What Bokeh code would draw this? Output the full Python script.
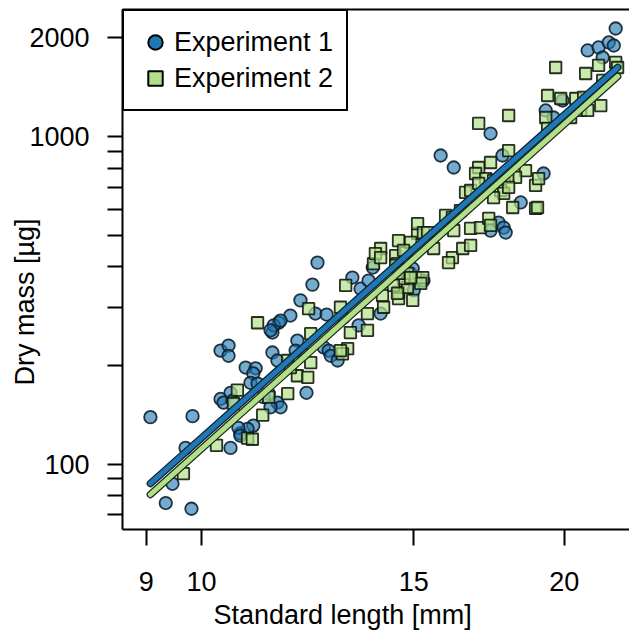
import math
from bokeh.plotting import figure
from bokeh.models import (FixedTicker, LogAxis, Legend, LegendItem, Title,
                          BasicTickFormatter)
from bokeh.embed import file_html
from bokeh.resources import INLINE

# ---------------- data ----------------
exp1_length = [9.07, 9.83, 9.46, 9.34, 9.81, 9.70, 10.57, 10.77, 11.04, 10.92,
               10.73, 10.77, 10.37, 10.53, 10.53, 10.88, 11.09, 11.04, 10.98, 11.13,
               10.57, 10.37, 10.43, 10.61, 11.37, 11.56, 11.63, 11.41, 11.26, 11.45,
               11.45, 11.56, 11.59, 11.85, 12.08, 11.48, 11.41, 11.63, 12.43, 12.70,
               12.01, 11.97, 12.15, 12.63, 12.75, 12.80, 12.97, 12.22, 12.48, 12.36,
               13.34, 13.55, 13.76, 13.87, 14.91, 15.00, 15.28, 13.50, 14.08, 13.12,
               14.97, 15.79, 16.19, 17.37, 17.77, 17.37, 17.64, 17.81, 17.88, 18.40,
               19.22, 19.30, 19.59, 19.93, 20.91, 21.35, 21.77, 21.98, 22.06, 21.52]
exp1_mass = [139, 140, 87, 76, 73, 112, 112, 124, 131, 128,
             129, 122, 222, 230, 214, 197, 196, 189, 177, 176,
             165, 158, 154, 156, 164, 154, 149, 149, 160, 252,
             219, 207, 270, 284, 316, 265, 256, 274, 288, 286,
             238, 222, 217, 227, 222, 214, 207, 165, 412, 353,
             371, 343, 363, 398, 382, 339, 363, 265, 288, 280,
             395, 875, 804, 1021, 875, 516, 546, 527, 509, 629,
             771, 1201, 1143, 1288, 1831, 1870, 1937, 1896, 2137, 1743]

exp2_length = [9.66, 10.29, 11.24, 10.92, 11.02, 10.71, 10.63, 11.37, 11.79, 11.13,
               12.27, 13.04, 13.73, 13.73, 12.32, 12.32, 12.01, 12.25, 11.79, 13.22,
               13.29, 13.09, 11.85, 13.17, 13.89, 14.08, 13.94, 14.49, 14.54, 14.71,
               15.11, 14.13, 14.16, 14.57, 14.57, 14.82, 14.97, 14.71, 14.08, 14.77,
               14.49, 14.82, 14.43, 14.54, 15.05, 15.26, 15.20, 14.57, 14.91, 14.57,
               14.91, 15.58, 16.15, 16.03, 16.47, 16.72, 15.11, 15.28, 15.40, 15.94,
               16.40, 16.15, 16.19, 16.72, 17.04, 17.31, 17.37, 16.56, 16.72, 16.98,
               17.37, 16.88, 17.21, 17.47, 16.98, 18.57, 18.22, 17.95, 18.93, 17.71,
               17.81, 17.98, 17.47, 18.12, 18.93, 17.98, 17.98, 16.98, 19.37, 19.86,
               20.44, 20.75, 19.30, 19.37, 20.24, 20.63, 20.91, 21.44, 19.67, 20.83,
               21.35, 22.06, 21.52, 22.14, 19.04, 19.00, 13.04, 14.71]
exp2_mass = [93.5, 114, 141, 120, 119, 168, 153, 160, 164, 270,
             298, 301, 288, 256, 250, 204, 186, 184, 207, 225,
             252, 217, 197, 351, 409, 455, 439, 433, 409, 390,
             506, 327, 301, 334, 320, 346, 316, 368, 427, 442,
             404, 382, 351, 332, 371, 371, 356, 481, 475, 382,
             371, 455, 427, 412, 455, 465, 542, 509, 509, 574,
             594, 566, 516, 524, 527, 562, 535, 675, 684, 804,
             833, 771, 744, 734, 719, 787, 750, 750, 709, 684,
             670, 699, 651, 607, 603, 906, 1159, 1096, 1334, 1306,
             1306, 1316, 1143, 1058, 1143, 1201, 1201, 1243, 1624, 1557,
             1648, 1683, 1483, 1624, 744, 607, 222, 449]

fit_length = [9.07, 22.14]
fit1_mass = [87.2, 1624]
fit2_mass = [80.7, 1525]

x_ticks = [9, 10, 15, 20]
y_ticks = [100, 1000, 2000]
y_minor = [70, 80, 90, 200, 300, 400, 500, 600, 700, 800, 900]

series_labels = ["Experiment 1", "Experiment 2"]
x_title = "Standard length [mm]"
y_title = "Dry mass [µg]"

# ---------------- style ----------------
FONT = "Liberation Sans"
FS = "27px"
BLUE = "#1f78b4"
GREEN = "#b2df8a"

p = figure(width=629, height=637, x_axis_type="log", y_axis_type="log",
           x_range=(8.599, 22.65), y_range=(63.1, 2442),
           output_backend="svg", toolbar_location=None,
           min_border_left=122, min_border_right=0,
           min_border_top=9, min_border_bottom=108)
p.outline_line_color = None
p.grid.visible = False
p.background_fill_color = "white"
p.border_fill_color = "white"

for ax in (p.xaxis[0], p.yaxis[0]):
    ax.axis_line_width = 2
    ax.axis_line_color = "black"
    ax.major_tick_line_width = 2
    ax.major_tick_line_color = "black"
    ax.minor_tick_line_width = 2
    ax.minor_tick_line_color = "black"
    ax.major_tick_in = 0
    ax.minor_tick_in = 0
    ax.major_label_text_font = FONT
    ax.major_label_text_font_size = FS
    ax.major_label_text_color = "black"
    ax.formatter = BasicTickFormatter(use_scientific=False)

p.xaxis[0].ticker = FixedTicker(ticks=x_ticks, minor_ticks=[])
p.xaxis[0].major_tick_out = 16
p.xaxis[0].major_label_standoff = 26

p.yaxis[0].ticker = FixedTicker(ticks=y_ticks, minor_ticks=y_minor)
p.yaxis[0].major_tick_out = 15
p.yaxis[0].minor_tick_out = 15
p.yaxis[0].major_label_standoff = 18

top = LogAxis(ticker=FixedTicker(ticks=[], minor_ticks=[]),
              major_label_text_font_size="0px", axis_line_width=2,
              axis_line_color="black", major_tick_out=0, minor_tick_out=0,
              major_tick_in=0, minor_tick_in=0, major_label_standoff=0)
p.add_layout(top, "above")

# points
p.scatter(exp1_length, exp1_mass, marker="circle", size=12.5,
          fill_color=BLUE, fill_alpha=0.62, line_color="#10202c",
          line_width=1.8, line_alpha=0.9)
p.scatter(exp2_length, exp2_mass, marker="square", size=11.5,
          fill_color=GREEN, fill_alpha=0.7, line_color="#111a0c",
          line_width=1.8, line_alpha=0.9)

# regression lines
p.line(fit_length, fit2_mass, line_color="#1d2a14", line_width=7.5, line_cap="round")
p.line(fit_length, fit2_mass, line_color=GREEN, line_width=5, line_cap="round")
p.line(fit_length, fit1_mass, line_color="#0e2233", line_width=7.5, line_cap="round")
p.line(fit_length, fit1_mass, line_color=BLUE, line_width=5, line_cap="round")

# legend (solid markers; one off-screen key point each)
key_x = [fit_length[0]]
key_y = [min(exp1_mass + exp2_mass) / 10.0]
leg1 = p.scatter(key_x, key_y, marker="circle", fill_color=BLUE,
                 line_color="black", line_width=2)
leg2 = p.scatter(key_x, key_y, marker="square", fill_color=GREEN,
                 line_color="black", line_width=2)
legend = Legend(items=[LegendItem(label=series_labels[0], renderers=[leg1]),
                       LegendItem(label=series_labels[1], renderers=[leg2])],
                location="top_left", margin=0, padding=13, spacing=0,
                glyph_width=36, glyph_height=36, label_standoff=1,
                label_text_font=FONT, label_text_font_size=FS,
                label_text_color="black",
                border_line_color="black", border_line_width=2,
                border_line_alpha=1.0,
                background_fill_color="white", background_fill_alpha=1.0)
p.add_layout(legend)

# axis titles
xt = Title(text=x_title, align="left", offset=91, vertical_align="bottom",
           standoff=8, text_line_height=0.7, text_font=FONT, text_font_size=FS,
           text_font_style="normal", text_color="black")
p.add_layout(xt, "below")

try:
    yt = Title(text=y_title, align="left", offset=144, vertical_align="bottom",
               standoff=-26, text_font=FONT, text_font_size=FS,
               text_font_style="normal", text_color="black")
except Exception:
    yt = Title(text=y_title, align="left", offset=144, vertical_align="bottom",
               standoff=0, text_font=FONT, text_font_size=FS,
               text_font_style="normal", text_color="black")
p.add_layout(yt, "left")

open("out.html", "w").write(file_html(p, INLINE))
